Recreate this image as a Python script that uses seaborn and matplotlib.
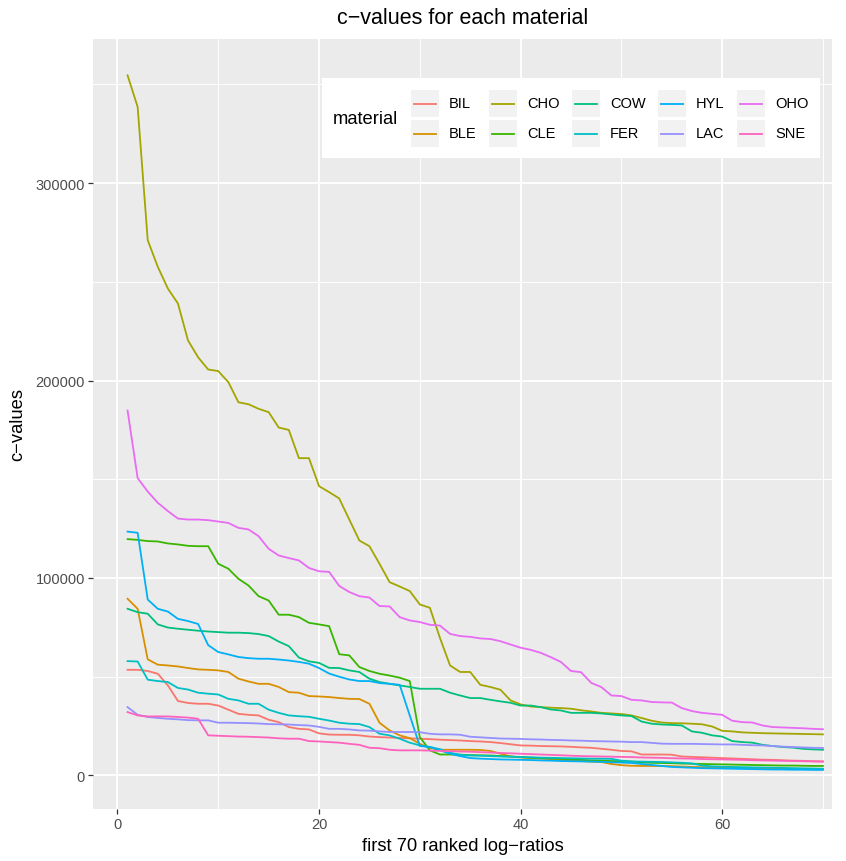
import numpy as np
import pandas as pd
import matplotlib
matplotlib.use("Agg")
import matplotlib.pyplot as plt
from matplotlib.patches import Rectangle
from matplotlib.lines import Line2D
import seaborn as sns

# c-values (in thousands) for the first 70 ranked log-ratios of each material
UNIT = 1000
materials = ["BIL", "BLE", "CHO", "CLE", "COW", "FER", "HYL", "LAC", "OHO", "SNE"]
colors = ["#F8766D", "#D89000", "#A3A500", "#39B600", "#00BF7D",
          "#00BFC4", "#00B0F6", "#9590FF", "#E76BF3", "#FF62BC"]

bil = [53.5, 53.5, 52.9, 51.5, 45.6, 37.7, 36.7, 36.3, 36.3, 35.4,
       33.3, 31.2, 30.7, 30.4, 28.2, 27.0, 24.5, 23.6, 23.3, 21.3,
       20.7, 20.6, 20.6, 20.3, 19.7, 19.4, 19.2, 19.0, 18.8, 18.6,
       18.4, 18.1, 17.9, 17.7, 17.4, 17.2, 16.9, 16.4, 15.8, 15.2,
       15.1, 14.9, 14.8, 14.7, 14.5, 14.2, 14.0, 13.5, 13.0, 12.4,
       12.2, 10.6, 10.6, 10.6, 10.5, 9.6, 9.4, 9.2, 9.0, 8.8,
       8.6, 8.4, 8.2, 8.0, 7.9, 7.7, 7.5, 7.4, 7.2, 7.1]
ble = [89.5, 84.4, 58.8, 56.1, 55.7, 55.2, 54.4, 53.7, 53.5, 53.2,
       52.4, 49.0, 47.6, 46.4, 46.4, 44.8, 42.2, 41.9, 40.2, 40.0,
       39.7, 39.2, 38.8, 38.7, 36.3, 26.7, 22.8, 20.3, 18.9, 16.0,
       13.9, 13.0, 13.0, 13.0, 13.0, 12.9, 12.4, 11.0, 9.6, 9.1,
       8.8, 8.5, 8.2, 7.9, 7.6, 7.3, 7.0, 6.8, 5.8, 5.2,
       4.9, 4.8, 4.8, 4.8, 4.7, 4.5, 4.3, 4.2, 4.1, 4.0,
       3.9, 3.8, 3.7, 3.6, 3.5, 3.4, 3.4, 3.3, 3.3, 3.2]
cho = [354.6, 338.6, 271.1, 257.6, 246.6, 239.0, 220.3, 211.8, 205.6, 204.8,
       199.2, 189.0, 188.0, 185.7, 184.0, 176.2, 175.0, 160.7, 160.7, 146.5,
       143.5, 140.3, 129.6, 119.0, 116.1, 107.2, 97.9, 95.7, 93.4, 86.6,
       84.9, 69.6, 55.7, 52.4, 52.4, 45.9, 44.8, 43.4, 38.0, 36.0,
       34.9, 34.6, 34.3, 34.1, 33.8, 33.0, 32.4, 31.7, 31.4, 31.1,
       30.4, 29.1, 27.7, 26.8, 26.5, 26.4, 26.2, 25.9, 24.8, 22.6,
       22.3, 21.8, 21.6, 21.4, 21.3, 21.2, 21.1, 21.0, 20.9, 20.8]
cle = [119.7, 119.3, 118.7, 118.5, 117.5, 117.0, 116.3, 116.1, 116.1, 107.2,
       104.7, 99.6, 96.2, 90.8, 88.6, 81.4, 81.4, 80.2, 77.3, 76.5,
       75.6, 61.4, 60.8, 54.9, 52.9, 51.5, 50.6, 49.5, 47.8, 19.4,
       12.7, 10.6, 10.6, 10.5, 10.3, 10.2, 10.1, 9.8, 9.6, 9.3,
       9.0, 8.8, 8.6, 8.4, 8.1, 7.9, 7.6, 7.5, 7.3, 7.2,
       7.0, 6.6, 6.4, 6.3, 6.2, 6.0, 5.9, 5.8, 5.7, 5.6,
       5.5, 5.4, 5.3, 5.2, 5.1, 5.0, 5.0, 4.9, 4.8, 4.8]
cow = [84.4, 82.7, 81.9, 76.5, 74.9, 74.3, 73.8, 73.3, 72.9, 72.6,
       72.3, 72.3, 72.1, 71.6, 70.6, 67.8, 65.5, 59.7, 57.8, 57.0,
       54.5, 54.4, 53.2, 52.4, 49.0, 47.3, 46.4, 45.6, 44.8, 43.9,
       43.9, 43.9, 41.9, 40.5, 39.2, 39.2, 38.3, 37.5, 36.8, 35.4,
       35.4, 34.6, 33.4, 32.9, 31.7, 31.7, 31.7, 31.4, 30.9, 30.4,
       30.1, 27.3, 26.2, 25.8, 25.6, 25.3, 22.3, 21.6, 20.3, 19.7,
       17.4, 16.9, 16.6, 15.5, 14.9, 14.4, 14.1, 13.5, 13.2, 13.0]
fer = [57.9, 57.7, 48.5, 47.8, 47.3, 44.3, 43.5, 41.9, 41.4, 41.0,
       38.8, 38.0, 36.3, 36.3, 33.3, 31.7, 30.4, 30.0, 29.7, 28.7,
       27.8, 26.7, 26.2, 26.0, 24.5, 21.1, 20.3, 18.6, 16.6, 15.2,
       14.4, 13.3, 11.5, 10.5, 10.1, 10.0, 9.8, 9.6, 9.5, 9.3,
       9.2, 9.0, 8.9, 8.8, 8.7, 8.6, 8.5, 8.5, 8.4, 7.5,
       7.1, 7.0, 6.9, 6.8, 6.6, 6.4, 6.1, 5.0, 4.6, 4.4,
       4.3, 4.2, 4.1, 4.0, 3.9, 3.8, 3.7, 3.6, 3.5, 3.4]
hyl = [123.5, 122.9, 89.1, 84.4, 83.0, 79.3, 78.2, 76.7, 66.0, 62.5,
       61.3, 60.0, 59.4, 59.1, 59.1, 58.7, 58.2, 57.5, 56.6, 54.4,
       51.6, 50.0, 48.6, 47.8, 47.8, 46.8, 46.4, 45.9, 30.4, 14.9,
       14.4, 12.7, 11.0, 9.8, 8.8, 8.5, 8.3, 8.1, 8.0, 7.9,
       7.8, 7.6, 7.5, 7.3, 7.2, 7.1, 7.0, 6.9, 6.7, 6.5,
       6.3, 5.8, 5.3, 4.8, 4.3, 4.1, 3.9, 3.7, 3.6, 3.5,
       3.4, 3.3, 3.2, 3.1, 3.0, 3.0, 2.9, 2.9, 2.8, 2.8]
lac = [34.6, 30.7, 29.6, 29.1, 28.7, 28.4, 28.0, 27.9, 27.9, 26.7,
       26.7, 26.6, 26.5, 26.3, 26.0, 25.9, 25.8, 25.5, 25.3, 24.6,
       23.6, 23.6, 23.3, 22.8, 22.7, 22.3, 22.0, 22.0, 22.0, 21.9,
       21.1, 20.8, 20.8, 20.6, 19.6, 19.3, 19.0, 18.7, 18.6, 18.5,
       18.3, 18.2, 18.0, 17.9, 17.7, 17.6, 17.4, 17.3, 17.2, 17.1,
       16.9, 16.9, 16.5, 16.1, 16.0, 16.0, 16.0, 15.9, 15.8, 15.7,
       15.7, 15.5, 15.3, 15.2, 14.9, 14.6, 14.4, 14.2, 14.0, 13.9]
oho = [184.8, 150.6, 143.8, 138.1, 133.9, 130.1, 129.6, 129.6, 129.3, 128.6,
       127.9, 125.4, 124.6, 121.2, 114.8, 111.4, 110.1, 108.9, 105.1, 103.4,
       103.1, 96.0, 92.9, 90.8, 90.1, 85.8, 85.6, 80.2, 78.5, 77.7,
       76.3, 75.9, 71.7, 70.6, 70.2, 69.4, 69.1, 68.0, 66.3, 64.7,
       63.6, 62.1, 59.9, 57.5, 52.9, 52.3, 46.9, 44.8, 40.5, 40.2,
       38.3, 38.0, 37.2, 37.0, 36.9, 34.1, 32.6, 31.7, 31.2, 30.7,
       27.7, 27.0, 26.8, 25.3, 24.5, 24.3, 24.1, 23.9, 23.6, 23.4]
sne = [32.1, 30.4, 29.9, 29.9, 29.9, 29.6, 29.3, 28.7, 20.3, 20.1,
       19.9, 19.7, 19.6, 19.4, 19.2, 18.8, 18.6, 18.6, 17.4, 17.2,
       16.9, 16.6, 16.0, 15.5, 14.0, 13.8, 13.0, 12.7, 12.7, 12.7,
       12.6, 12.4, 12.3, 12.1, 12.0, 11.8, 11.6, 11.4, 11.2, 11.0,
       10.8, 10.6, 10.4, 10.2, 10.0, 9.8, 9.7, 9.6, 9.5, 9.4,
       9.3, 9.1, 9.0, 8.9, 8.7, 8.6, 8.5, 8.3, 8.2, 8.1,
       8.0, 7.9, 7.7, 7.6, 7.5, 7.4, 7.3, 7.2, 7.1, 7.0]

series = [bil, ble, cho, cle, cow, fer, hyl, lac, oho, sne]
ranks = np.arange(1, 71)

x_major = [0, 20, 40, 60]
x_minor = [10, 30, 50, 70]
y_major = [0, 100000, 200000, 300000]
y_major_labels = ["0", "100000", "200000", "300000"]
y_minor = [50000, 150000, 250000, 350000]

df = pd.concat(
    [pd.DataFrame({"rank": ranks, "c": np.array(v) * UNIT, "material": m})
     for m, v in zip(materials, series)],
    ignore_index=True,
)

FONT = ["Liberation Sans", "DejaVu Sans"]
plt.rcParams["font.family"] = FONT

W, H = 846, 862
fig = plt.figure(figsize=(W / 100, H / 100), dpi=100)
fig.patch.set_facecolor("white")


def fx(px):
    return px / W


def fy(py):
    return 1 - py / H


left, right, top, bottom = 92.8, 832.0, 40.0, 810.0
ax = fig.add_axes([fx(left), fy(bottom), (right - left) / W, (bottom - top) / H])
ax.set_facecolor("#EBEBEB")

palette = dict(zip(materials, colors))
sns.lineplot(data=df, x="rank", y="c", hue="material", hue_order=materials,
             palette=palette, linewidth=1.3, legend=False, errorbar=None,
             ax=ax, zorder=3)

ax.set_xlim(-2.45, 70.9)
ax.set_ylim(-17000, 373000)
ax.set_xticks(x_major)
ax.set_xticks(x_minor, minor=True)
ax.set_yticks(y_major)
ax.set_yticklabels(y_major_labels)
ax.set_yticks(y_minor, minor=True)
ax.grid(which="major", color="white", linewidth=1.3, zorder=1)
ax.grid(which="minor", color="white", linewidth=0.65, zorder=1)
ax.set_axisbelow(True)
for s in ax.spines.values():
    s.set_visible(False)
ax.tick_params(which="major", length=3.4, width=0.9, color="#333333",
               labelcolor="#4D4D4D", labelsize=10.5, pad=2.2)
ax.tick_params(which="minor", length=0)
ax.set_xlabel("")
ax.set_ylabel("")

# titles
fig.text(fx((left + right) / 2), fy(18), "c\u2212values for each material",
         ha="center", va="center", fontsize=15.5, color="black")
fig.text(fx((left + right) / 2), fy(847), "first 70 ranked log\u2212ratios",
         ha="center", va="center", fontsize=13.2, color="black")
fig.text(fx(18), fy((top + bottom) / 2), "c\u2212values", rotation=90,
         ha="center", va="center", fontsize=13.2, color="black")

# legend box
fig.patches.append(Rectangle((fx(321.7), fy(159.3)), (820 - 321.7) / W,
                             (159.3 - 79) / H, transform=fig.transFigure,
                             facecolor="white", edgecolor="none", zorder=5))
fig.text(fx(333), fy(120), "material", ha="left", va="center",
         fontsize=13.2, color="black", zorder=6)
col_x = [411, 489, 572, 658, 737]
row_y = [90.7, 120.7]
key = 27.6
for idx, (m, c) in enumerate(zip(materials, colors)):
    cx = col_x[idx // 2]
    ry = row_y[idx % 2]
    fig.patches.append(Rectangle((fx(cx), fy(ry + key)), key / W, key / H,
                                 transform=fig.transFigure, facecolor="#F2F2F2",
                                 edgecolor="none", zorder=6))
    fig.lines.append(Line2D([fx(cx + 2.5), fx(cx + key - 2.5)],
                            [fy(ry + key / 2)] * 2, transform=fig.transFigure,
                            color=c, linewidth=1.3, zorder=7))
    fig.text(fx(cx + 38), fy(ry + key / 2), m, ha="left", va="center",
             fontsize=10.5, color="black", zorder=7)

fig.savefig("out.png", dpi=100, facecolor="white")
